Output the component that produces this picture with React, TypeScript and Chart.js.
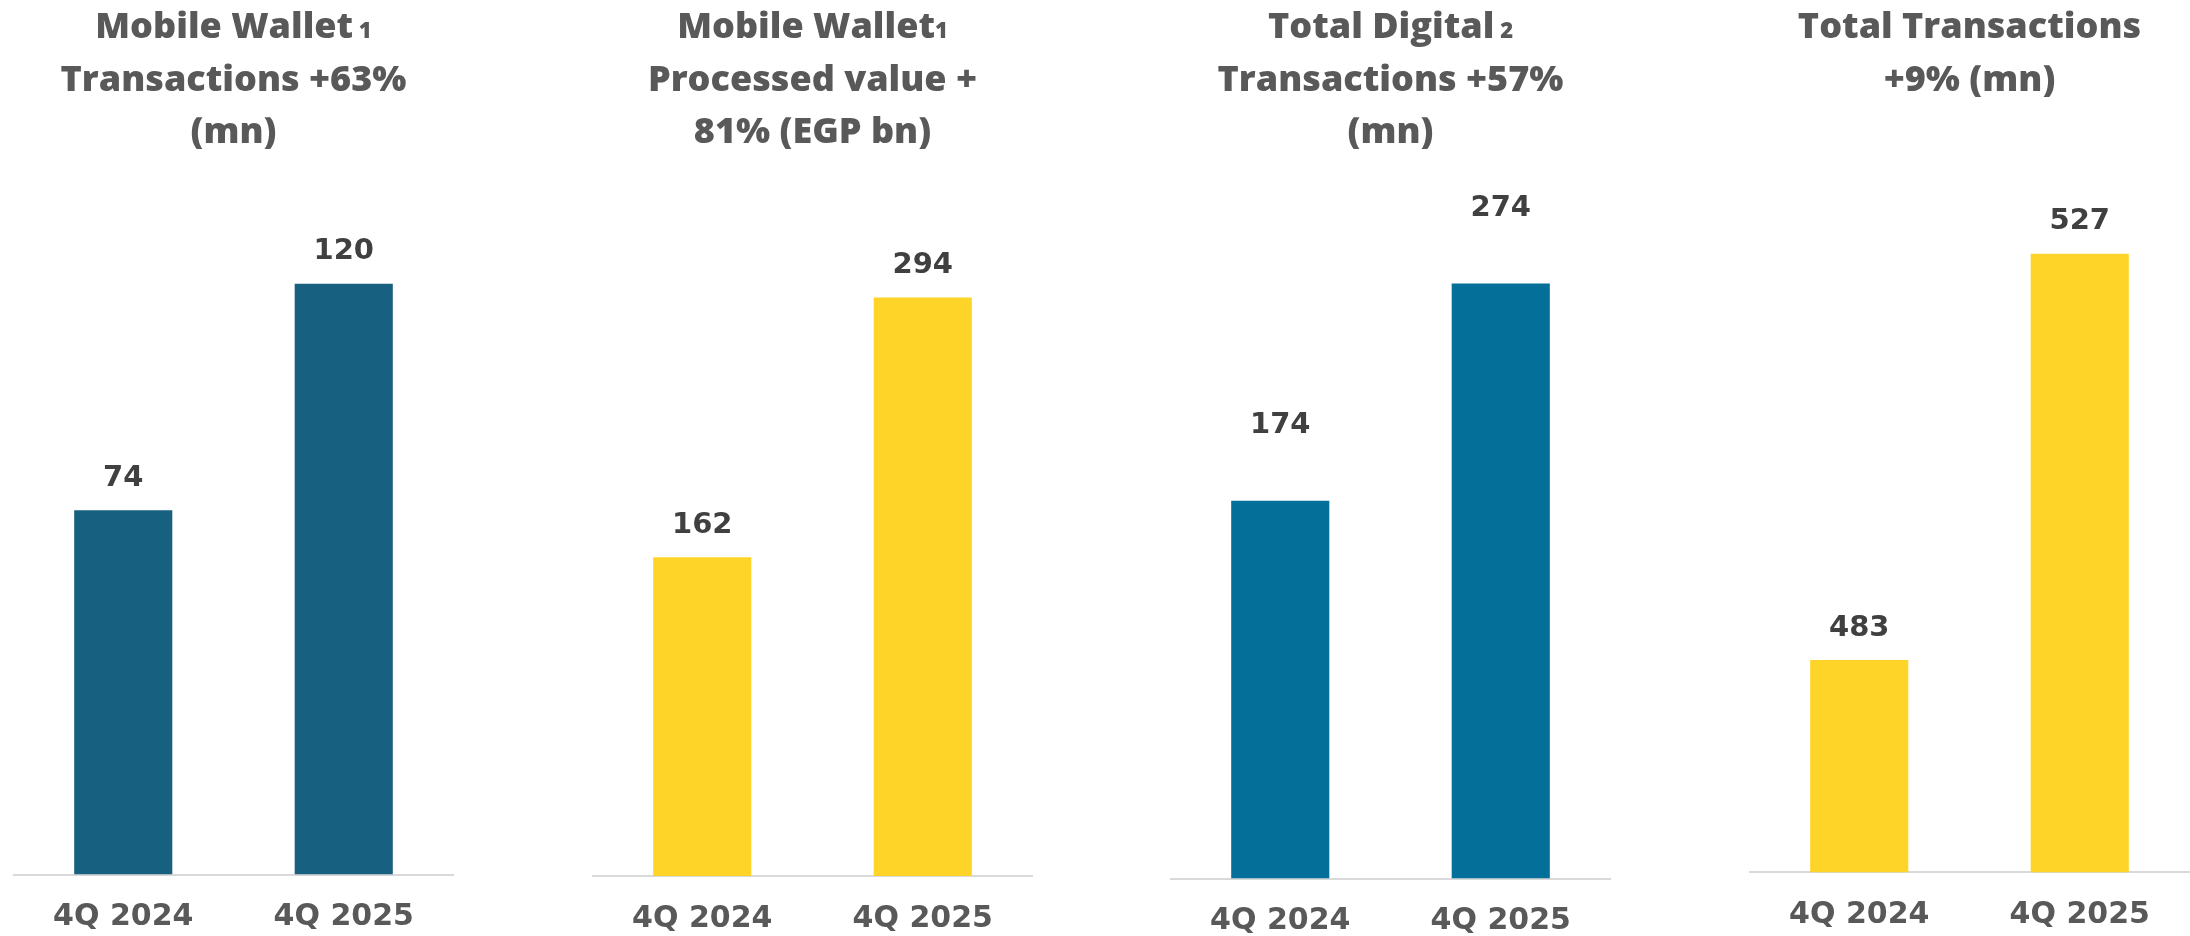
import React, { useEffect, useRef } from "react";
import { Chart, registerables } from "chart.js";

Chart.register(...registerables);

// ---- data ----
const categories = ["4Q 2024", "4Q 2025"];

const walletTransactions = [74, 120];
const walletProcessedValue = [162, 294];
const digitalTransactions = [174, 274];
const totalTransactions = [483, 527];

const panelTitles = [
  ["Mobile Wallet", "Transactions +63%", "(mn)"],
  ["Mobile Wallet", "Processed value +", "81% (EGP bn)"],
  ["Total Digital", "Transactions +57%", "(mn)"],
  ["Total Transactions", "+9% (mn)"],
];
const titleNotes = [" 1", "1", " 2", ""];

const axisMins = [0, 0, 0, 460];
const axisMaxs = [141.1, 353.7, 321.7, 535];

// ---- style / layout ----
const seriesList = [walletTransactions, walletProcessedValue, digitalTransactions, totalTransactions];
const barColors = ["#18607F", "#FED428", "#046F98", "#FED428"];
const panelLefts = [13, 592, 1170, 1749];
const panelWidth = 441;
const canvasHeight = 936;
const baselines = [874.6, 876, 878.5, 872.3];
const valueLabelGaps = [32, 32, 75, 32];
const plotTop = 180;

const TITLE_COLOR = "#595959";
const VALUE_COLOR = "#404040";
const TITLE_FONT_SIZE = 36;
const TITLE_FAMILY = '"Open Sans", "Lato", sans-serif';
const NUM_FAMILY = '"DejaVu Sans", sans-serif';

function makeTitlePlugin(lines: string[], note: string) {
  return {
    id: "panelTitle",
    afterDraw(chart: any) {
      const ctx = chart.ctx;
      const cx = (chart.chartArea.left + chart.chartArea.right) / 2;
      ctx.save();
      ctx.fillStyle = TITLE_COLOR;
      ctx.textBaseline = "alphabetic";
      ctx.textAlign = "left";
      lines.forEach((line, i) => {
        const y = 38 + 52.5 * i;
        const mainFont = `800 ${TITLE_FONT_SIZE}px ${TITLE_FAMILY}`;
        const noteFont = `800 ${Math.round(TITLE_FONT_SIZE * 0.6)}px ${TITLE_FAMILY}`;
        ctx.font = mainFont;
        const w1 = ctx.measureText(line).width;
        let w2 = 0;
        if (i === 0 && note) {
          ctx.font = noteFont;
          w2 = ctx.measureText(note).width;
        }
        const x0 = cx - (w1 + w2) / 2;
        ctx.font = mainFont;
        ctx.fillText(line, x0, y);
        if (w2) {
          ctx.font = noteFont;
          ctx.fillText(note, x0 + w1, y);
        }
      });
      ctx.restore();
    },
  };
}

function makeValueLabelPlugin(gap: number) {
  return {
    id: "valueLabels",
    afterDatasetsDraw(chart: any) {
      const ctx = chart.ctx;
      ctx.save();
      ctx.fillStyle = VALUE_COLOR;
      ctx.font = `bold 29px ${NUM_FAMILY}`;
      ctx.textAlign = "center";
      ctx.textBaseline = "middle";
      chart.data.datasets.forEach((ds: any, di: number) => {
        const meta = chart.getDatasetMeta(di);
        meta.data.forEach((bar: any, i: number) => {
          ctx.fillText(String(ds.data[i]), bar.x, bar.y - gap);
        });
      });
      ctx.restore();
    },
  };
}

function Panel({ index }: { index: number }) {
  const ref = useRef<HTMLCanvasElement | null>(null);
  useEffect(() => {
    if (!ref.current) return;
    const xAxisHeight = canvasHeight - baselines[index];
    const chart = new Chart(ref.current, {
      type: "bar",
      data: {
        labels: categories,
        datasets: [
          {
            data: seriesList[index],
            backgroundColor: barColors[index],
            borderWidth: 0,
            barPercentage: 0.445,
            categoryPercentage: 1,
          },
        ],
      },
      options: {
        animation: false,
        responsive: false,
        devicePixelRatio: 1,
        layout: { padding: { top: plotTop, left: 0, right: 0, bottom: 0 } },
        plugins: {
          legend: { display: false },
          title: { display: false },
          tooltip: { enabled: false },
        },
        scales: {
          x: {
            grid: { display: false, drawTicks: false },
            border: { display: true, color: "#D9D9D9", width: 2 },
            ticks: {
              color: TITLE_COLOR,
              font: { family: NUM_FAMILY, size: 30, weight: "bold" },
              padding: 25,
              maxRotation: 0,
              autoSkip: false,
            },
            afterFit: (scale: any) => {
              scale.height = xAxisHeight;
            },
          },
          y: {
            display: false,
            min: axisMins[index],
            max: axisMaxs[index],
          },
        },
      },
      plugins: [makeTitlePlugin(panelTitles[index], titleNotes[index]), makeValueLabelPlugin(valueLabelGaps[index])],
    } as any);
    return () => chart.destroy();
  }, [index]);
  return (
    <canvas
      ref={ref}
      width={panelWidth}
      height={canvasHeight}
      style={{
        position: "absolute",
        left: panelLefts[index],
        top: 0,
        width: panelWidth,
        height: canvasHeight,
      }}
    />
  );
}

export default function App() {
  return (
    <div
      style={{
        position: "fixed",
        left: 0,
        top: 0,
        width: 2190,
        height: 936,
        background: "#ffffff",
        overflow: "hidden",
      }}
    >
      {[0, 1, 2, 3].map((i) => (
        <Panel key={i} index={i} />
      ))}
    </div>
  );
}
